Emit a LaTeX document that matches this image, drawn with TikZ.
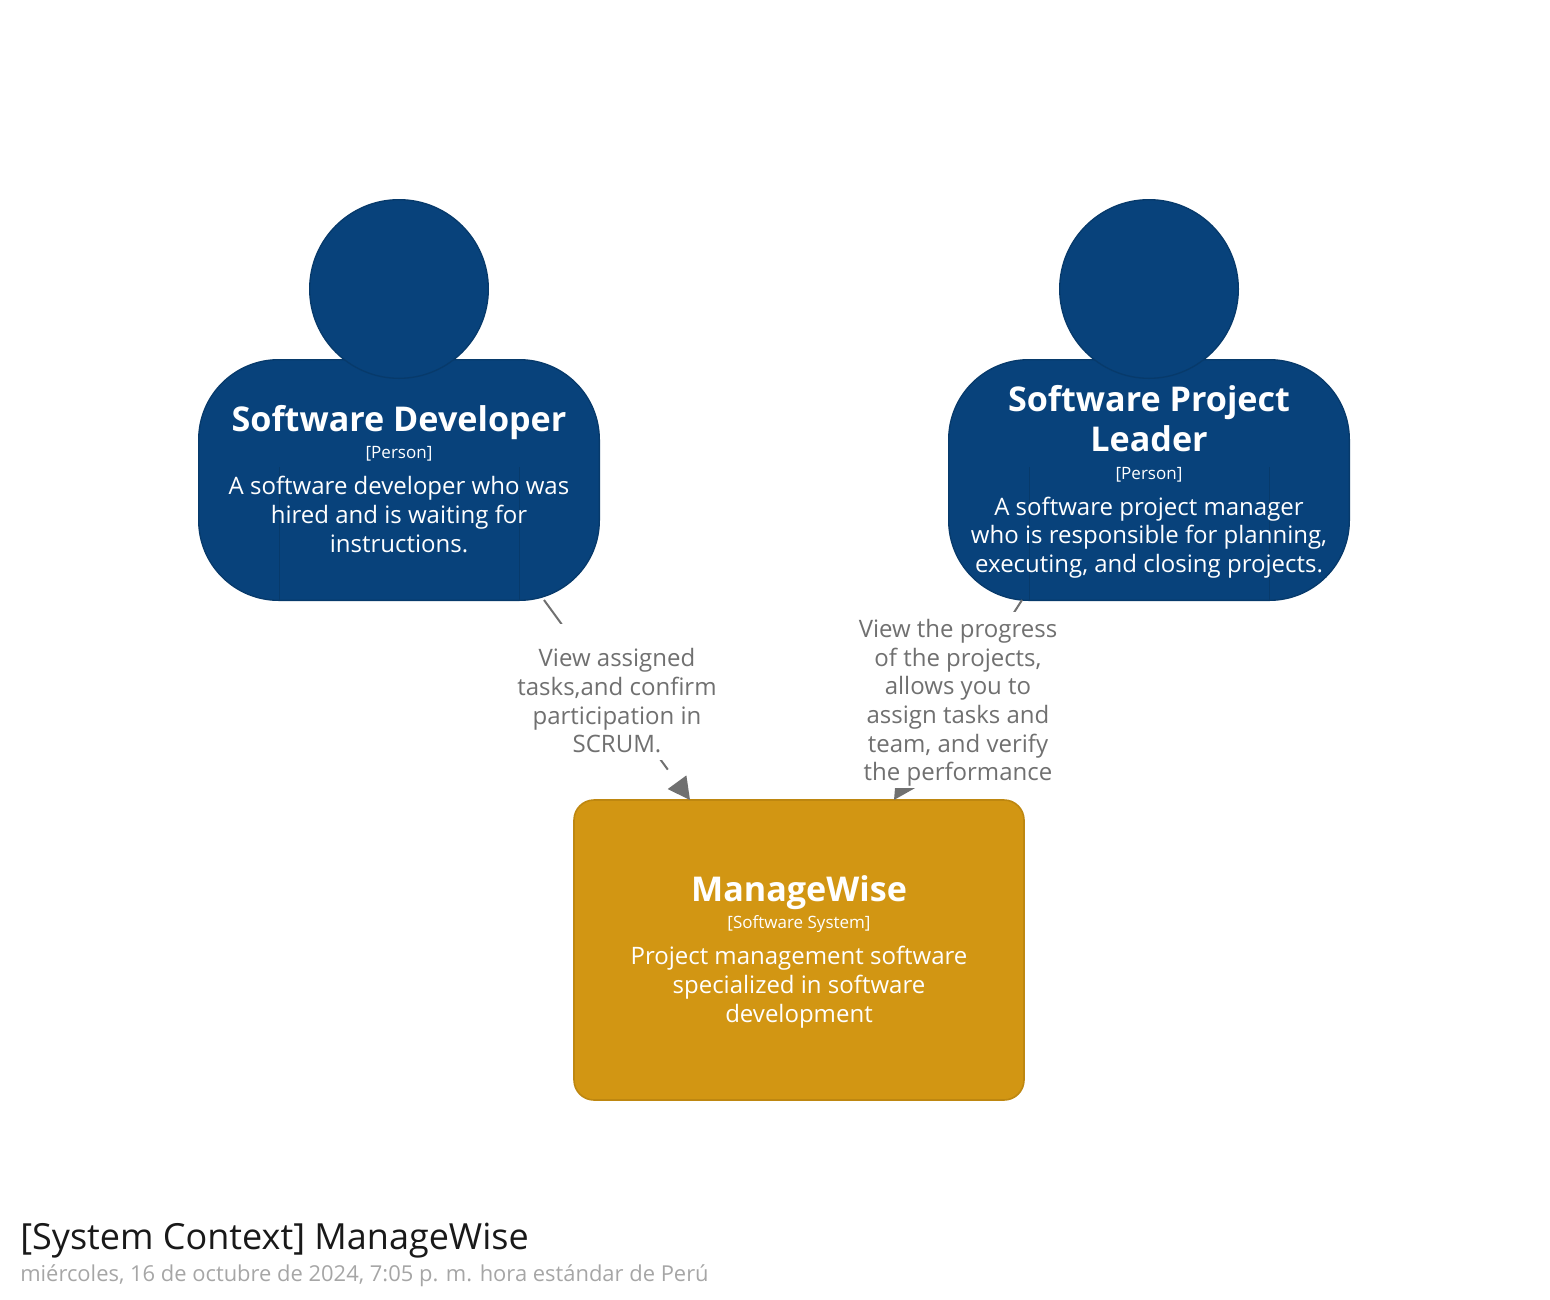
\documentclass[tikz,border=0pt]{standalone}
\usepackage{fontspec}
\setmainfont{Open Sans}
\usetikzlibrary{arrows.meta}
\definecolor{personfill}{HTML}{08427B}
\definecolor{personedge}{HTML}{073A6B}
\definecolor{sysfill}{HTML}{D29613}
\definecolor{sysedge}{HTML}{BE8710}
\definecolor{linkgrey}{HTML}{707070}
\tikzset{
  headshape/.style={circle,draw=personedge,fill=personfill,line width=1pt,minimum size=134pt,inner sep=0pt},
  bodyshape/.style={rectangle,rounded corners=60pt,draw=personedge,fill=personfill,line width=1pt,minimum width=300.5pt,minimum height=180.5pt,inner sep=0pt},
  sysshape/.style={rectangle,rounded corners=15pt,draw=sysedge,fill=sysfill,line width=1.2pt,minimum width=337.5pt,minimum height=225pt,inner sep=0pt},
  armline/.style={draw=personedge,line width=0.75pt},
  nametext/.style={text=white,align=center,inner sep=0pt,anchor=base,font=\fontsize{25.6pt}{30pt}\selectfont\bfseries},
  kindtext/.style={text=white,align=center,inner sep=0pt,anchor=base,font=\fontsize{12.75pt}{15pt}\selectfont},
  desctext/.style={text=white,align=center,inner sep=0pt,anchor=base,font=\fontsize{18pt}{21.5pt}\selectfont},
  linktext/.style={text=linkgrey,align=center,inner sep=0pt,anchor=center,font=\fontsize{18pt}{21.5pt}\selectfont},
  linkmask/.style={fill=white,inner sep=0pt,minimum width=150pt},
  link/.style={draw=linkgrey,line width=1.5pt,dash pattern=on 22.5pt off 22.5pt,-{Triangle[length=16.5pt,width=17pt]}},
}
\begin{document}
\begin{tikzpicture}[x=0.75pt,y=-0.75pt]
\useasboundingbox (0,0) rectangle (1550,1300);
% people
\node[bodyshape] (devbody) at (399,480) {};
\node[headshape] (devhead) at (399,289) {};
\draw[armline] (279,467) coordinate (devarmA) -- (279,600);
\draw[armline] (519,467) coordinate (devarmB) -- (519,600);
\node[bodyshape] (leadbody) at (1149,480) {};
\node[headshape] (leadhead) at (1149,289) {};
\draw[armline] (1029,467) coordinate (leadarmA) -- (1029,600);
\draw[armline] (1269,467) coordinate (leadarmB) -- (1269,600);
% system
\node[sysshape] (sys) at (799,950) {};
% connector ends
\coordinate (devout) at (544,600);
\coordinate (leadout) at (1022,600);
\coordinate (sysinA) at (690,800);
\coordinate (sysinB) at (894,800);
\draw[link] (devout) -- (sysinA);
\draw[link] (leadout) -- (sysinB);
% labels
\node[linkmask,minimum height=102pt] (maskA) at (617,692) {};
\node[linkmask,minimum height=132pt] (maskB) at (958,700) {};
\node[linktext] (labA) at (617,701) {View assigned\\tasks,and confirm\\participation in\\SCRUM.};
\node[linktext] (labB) at (958,703) {View the progress\\of the projects,\\allows you to\\assign tasks and\\team, and verify\\the performance};
% person text
\node[nametext] (devname) at (399,431) {Software Developer};
\node[kindtext] (devkind) at (399,458) {[Person]};
\node[desctext] (devdesc) at (399,552) {A software developer who was\\hired and is waiting for\\instructions.};
\node[nametext] (leadname) at (1149,451) {Software Project\\Leader};
\node[kindtext] (leadkind) at (1149,479) {[Person]};
\node[desctext] (leaddesc) at (1149,572.5) {A software project manager\\who is responsible for planning,\\executing, and closing projects.};
\node[nametext] (sysname) at (799,901) {ManageWise};
\node[kindtext] (syskind) at (799,928) {[Software System]};
\node[desctext] (sysdesc) at (799,1022) {Project management software\\specialized in software\\development};
% caption
\node[inner sep=0pt,anchor=base west,text=black!90,font=\fontsize{27pt}{32pt}\selectfont] (title) at (20,1249) {[System Context] ManageWise};
\node[inner sep=0pt,anchor=base west,text=black!35,font=\fontsize{16.45pt}{20pt}\selectfont] (stamp) at (20,1281) {miércoles, 16 de octubre de 2024, 7:05 p. m. hora estándar de Perú};
\end{tikzpicture}
\end{document}
